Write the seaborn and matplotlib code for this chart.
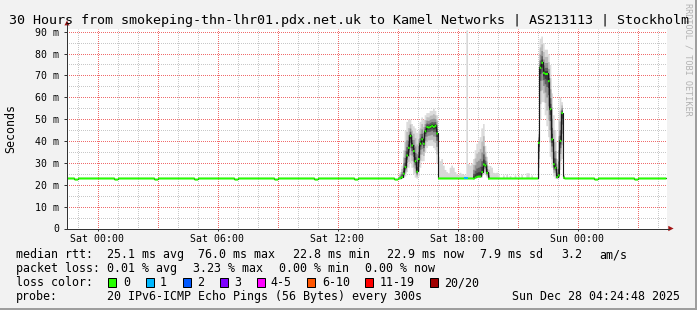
import numpy as np
import matplotlib
matplotlib.use("Agg")
import matplotlib.pyplot as plt
import seaborn as sns
from matplotlib.patches import Rectangle, Polygon
from matplotlib.lines import Line2D

# ---------------- data ----------------
n_samples = 360
step_hours = 5 / 60            # 300 s probe interval
first_start = -1.5833          # Fri 22:25, hours relative to Sat 00:00
baseline_ms = 23.1
dip_ms = 22.6
dip_samples = [5, 6, 29, 30, 53, 54, 77, 78, 101, 102, 125, 126, 149, 150,
               173, 174, 197, 198, 317, 318, 341, 342]

ev1_start = 199
ev1_med = [23.0, 23.2, 23.7, 25.3, 28.3, 33.6, 37.1, 42.6, 38.2, 35.6, 31.0, 26.2,
           32.0, 39.0, 41.0, 39.0, 44.7, 46.6, 46.4, 46.7, 47.2, 46.7, 47.2, 43.7]
ev1_lo = [22.8, 22.8, 23.0, 23.3, 24.0, 26.0, 28.0, 30.0, 28.0, 25.0, 23.5, 23.0,
          24.0, 28.0, 31.0, 31.0, 35.0, 37.0, 38.0, 38.0, 38.0, 37.0, 36.0, 30.0]
ev1_hi = [24.0, 26.0, 29.0, 36.0, 45.0, 49.0, 50.0, 50.0, 48.0, 47.0, 46.0, 44.0,
          45.0, 49.0, 51.0, 50.0, 52.0, 53.0, 53.0, 54.0, 54.0, 55.0, 54.0, 52.0]

ev2_start = 244
ev2_med = [23.0, 23.5, 23.9, 24.0, 24.0, 26.0, 29.5, 29.0, 25.7, 23.0]
ev2_lo = [22.8, 23.0, 23.2, 23.3, 23.3, 23.5, 25.0, 25.0, 23.5, 22.8]
ev2_hi = [32.0, 36.0, 39.0, 40.0, 42.0, 46.0, 48.0, 38.0, 33.0, 29.0]

ev3_start = 283
ev3_med = [39.4, 73.7, 76.0, 71.4, 70.9, 70.9, 67.6, 54.8, 41.0, 29.6, 28.0, 23.7,
           24.5, 40.3, 53.0, 23.5]
ev3_lo = [23.0, 50.0, 58.0, 58.0, 52.0, 47.0, 42.0, 33.0, 28.0, 24.0, 23.0, 22.8,
          23.0, 27.0, 32.0, 22.8]
ev3_hi = [45.0, 87.0, 88.0, 85.0, 82.0, 82.0, 80.0, 75.0, 62.0, 52.0, 45.0, 32.0,
          50.0, 60.0, 58.0, 25.0]

# sparse outlier smoke (light grey) in quiet periods: sample -> max rtt
outlier_hi = {223: 33.0, 224: 31.0, 225: 32.0, 226: 29.0, 227: 27.0, 228: 26.0,
              229: 25.5, 230: 28.0, 231: 29.0, 232: 28.0, 233: 26.0, 234: 25.0,
              235: 24.5, 236: 25.7, 237: 25.2, 238: 24.8, 239: 24.5, 240: 90.8,
              241: 29.7, 242: 29.0, 243: 30.0, 254: 28.8, 255: 28.0, 256: 25.7,
              257: 25.5, 258: 25.7, 259: 25.0, 262: 24.5, 264: 24.8, 266: 24.2,
              269: 24.5, 271: 24.2, 273: 24.8, 276: 25.5, 277: 25.5, 279: 24.5}

loss_samples = {239: 1, 240: 1}

xtick_hours = [0, 6, 12, 18, 24]
xtick_labels = ["Sat 00:00", "Sat 06:00", "Sat 12:00", "Sat 18:00", "Sun 00:00"]
ytick_values = [0, 10, 20, 30, 40, 50, 60, 70, 80, 90]
ytick_labels = ["0", "10 m", "20 m", "30 m", "40 m", "50 m", "60 m", "70 m", "80 m", "90 m"]

title = "30 Hours from smokeping-thn-lhr01.pdx.net.uk to Kamel Networks | AS213113 | Stockholm"
loss_names = ["0", "1", "2", "3", "4-5", "6-10", "11-19", "20/20"]
loss_colors = ["#26ff00", "#00b8ff", "#0059ff", "#7e00ff", "#ff00ff", "#ff5500", "#ff0000", "#a00000"]

rtt_items = ["median rtt:", "25.1 ms avg", "76.0 ms max", "22.8 ms min", "22.9 ms now",
             "7.9 ms sd", "3.2", "am/s"]
loss_items = ["packet loss:", "0.01 % avg", "3.23 % max", "0.00 % min", "0.00 % now"]
probe_text = "20 IPv6-ICMP Echo Pings (56 Bytes) every 300s"
date_text = "Sun Dec 28 04:24:48 2025"

# ---------------- layout / style ----------------
W, H = 697, 310
BG = "#f2f2f2"
AXIS_C = "#333333"
ARROW_C = "#a31515"
GRID_GRAY = "#c8c8c8"
GRID_RED = "#f06c6c"
MONO = "DejaVu Sans Mono"

sns.set_theme(style="white")
plt.rcParams["font.family"] = [MONO, "DejaVu Sans"]
plt.rcParams["text.color"] = "black"

def fx(x):
    return x / W

def fy(y):
    return 1 - y / H

# ---------------- build series ----------------
med = np.array([baseline_ms] * n_samples, dtype=float)
for i in dip_samples:
    med[i] = dip_ms
lo = med.copy()
hi = med.copy()
for start, m, l, h in [(ev1_start, ev1_med, ev1_lo, ev1_hi),
                       (ev2_start, ev2_med, ev2_lo, ev2_hi),
                       (ev3_start, ev3_med, ev3_lo, ev3_hi)]:
    med[start:start + len(m)] = m
    lo[start:start + len(l)] = l
    hi[start:start + len(h)] = h
out_hi = med.copy()
for i, v in outlier_hi.items():
    out_hi[i] = max(v, med[i])
loss = np.zeros(n_samples, dtype=int)
for i, v in loss_samples.items():
    loss[i] = v

x = first_start + np.arange(n_samples) * step_hours
xe = np.append(x, x[-1] + step_hours)

def ext(a):
    return np.append(a, a[-1])

# ---------------- figure ----------------
fig = plt.figure(figsize=(W / 100, H / 100), dpi=100, facecolor=BG)
ax = fig.add_axes([fx(67), fy(228.5), 600 / W, 200 / H])
ax.set_facecolor("white")
ax.set_xlim(-1.525, 28.475)
ax.set_ylim(0, 91.45)

# grid (dotted, 1px on / 1px off, pixel aligned)
for h in range(-1, 29):
    ax.axvline(h, color=GRID_RED if h % 3 == 0 else GRID_GRAY, lw=0.72,
               ls=(0.5, (1, 1)), zorder=1, solid_capstyle="butt", dash_capstyle="butt")
for v in range(5, 95, 5):
    ax.axhline(v, color=GRID_RED if v % 10 == 0 else GRID_GRAY, lw=0.72,
               ls=(0.5, (1, 1)), zorder=1, solid_capstyle="butt", dash_capstyle="butt")

# smoke: sparse outliers
ax.fill_between(xe, ext(med), ext(out_hi), step="post", color="#d8d8d8", lw=0, zorder=2)
# smoke: dense bands, darker towards the median
for f, c in zip([1.0, 0.7, 0.45, 0.25, 0.12],
                ["#dcdcdc", "#bcbcbc", "#929292", "#606060", "#383838"]):
    ax.fill_between(xe, ext(med - f * (med - lo)), ext(med + f * (hi - med)),
                    step="post", color=c, lw=0, zorder=2.1)

# median line
sns.lineplot(x=xe, y=ext(med), drawstyle="steps-post", color="#1a1a1a",
             linewidth=0.8, estimator=None, ax=ax, zorder=3, legend=False)

# loss coloured median band
half = 0.46
ax.fill_between(xe, ext(med - half), ext(med + half), step="post",
                color=loss_colors[0], lw=0, zorder=4)
for k in range(1, len(loss_colors)):
    mask = loss == k
    if mask.any():
        mask_e = np.append(mask, False) | np.append(False, mask)
        ax.fill_between(xe, ext(med - half), ext(med + half), where=mask_e,
                        step="post", color=loss_colors[k], lw=0, zorder=4.1)

# axes styling
ax.set_xticks(xtick_hours)
ax.set_xticklabels(xtick_labels)
ax.set_yticks(ytick_values)
ax.set_yticklabels(ytick_labels)
ax.tick_params(axis="y", length=2.2, width=0.72, pad=3.4, labelsize=7.1,
               color=AXIS_C, labelcolor="black", left=True)
ax.tick_params(axis="x", length=1.5, width=0.72, pad=2.6, labelsize=7.1,
               color=AXIS_C, labelcolor="black", bottom=True)
for lab in ax.get_xticklabels() + ax.get_yticklabels():
    lab.set_family(MONO)
for s in ["top", "right"]:
    ax.spines[s].set_visible(False)
for s in ["left", "bottom"]:
    ax.spines[s].set_color(AXIS_C)
    ax.spines[s].set_linewidth(0.72)
    ax.spines[s].set_zorder(6)
ax.set_xlabel("")
ax.set_ylabel("")

# axis extensions and arrows
fig.add_artist(Line2D([fx(67), fx(67)], [fy(228.5), fy(24)], color=AXIS_C, lw=0.72))
fig.add_artist(Polygon([(fx(64.4), fy(25.4)), (fx(69.6), fy(25.4)), (fx(67), fy(20.6))],
                       closed=True, transform=fig.transFigure, color=ARROW_C, lw=0))
fig.add_artist(Line2D([fx(667), fx(669)], [fy(228.5), fy(228.5)], color=AXIS_C, lw=0.72))
fig.add_artist(Polygon([(fx(668.3), fy(225.8)), (fx(668.3), fy(231.2)), (fx(673.6), fy(228.5))],
                       closed=True, transform=fig.transFigure, color=ARROW_C, lw=0))

# watermark and titles
fig.text(fx(688), fy(3), "RRDTOOL / TOBI OETIKER", rotation=270, ha="center", va="top",
         fontsize=6.1, color="#b2b2b2", family=MONO)
fig.text(fx(349), fy(24), title, ha="center", va="baseline", fontsize=9.6, family=MONO)
fig.text(fx(10.5), fy(128.5), "Seconds", rotation=90, ha="center", va="center",
         fontsize=8.4, family=MONO)

# legend
LS = 8.4
rtt_x = [16, 107.3, 198.5, 293.3, 387.3, 480, 561, 599.5]
for t, xx in zip(rtt_items, rtt_x):
    fig.text(fx(xx), fy(258.3), t, ha="left", va="baseline", fontsize=LS, family=MONO)
loss_x = [16, 107.3, 193.3, 279.3, 365.3]
for t, xx in zip(loss_items, loss_x):
    fig.text(fx(xx), fy(272.3), t, ha="left", va="baseline", fontsize=LS, family=MONO)
fig.text(fx(16), fy(286.3), "loss color:", ha="left", va="baseline", fontsize=LS, family=MONO)
box_x = [108.3, 145.7, 183.3, 220, 256.7, 306.7, 365.3, 430]
lab_x = [123.3, 160, 197.3, 234.3, 270.7, 321.8, 380, 444.4]
for name, col, bx, lx in zip(loss_names, loss_colors, box_x, lab_x):
    fig.add_artist(Rectangle((fx(bx), fy(286.5)), 8 / W, 9 / H, transform=fig.transFigure,
                             facecolor=col, edgecolor="black", lw=0.72))
    fig.text(fx(lx), fy(286.3), name, ha="left", va="baseline", fontsize=LS, family=MONO)
fig.text(fx(16), fy(300.3), "probe:", ha="left", va="baseline", fontsize=LS, family=MONO)
fig.text(fx(107.3), fy(300.3), probe_text, ha="left", va="baseline", fontsize=LS, family=MONO)
fig.text(fx(680.5), fy(300.3), date_text, ha="right", va="baseline", fontsize=LS, family=MONO)

# frame shade (bottom / right)
fig.add_artist(Line2D([fx(696), fx(696)], [fy(0), fy(310)], color="#9e9e9e", lw=1.44))
fig.add_artist(Line2D([fx(0), fx(697)], [fy(309), fy(309)], color="#9e9e9e", lw=1.44))

fig.savefig("out.png", dpi=100, facecolor=BG)
